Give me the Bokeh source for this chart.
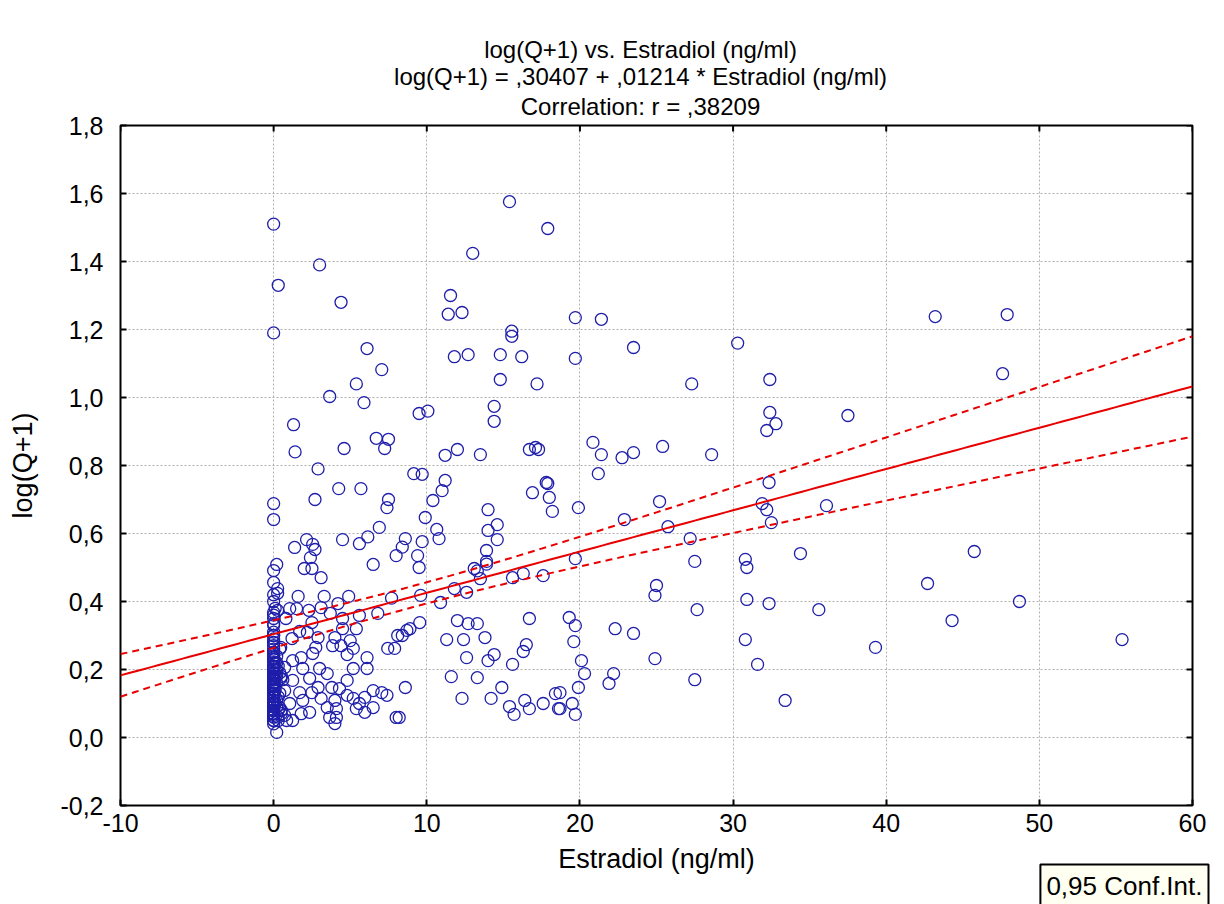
import numpy as np
from bokeh.plotting import figure
from bokeh.models import (Range1d, FixedTicker, CustomJSTickFormatter, Title, ColumnDataSource)
from bokeh.embed import file_html
from bokeh.resources import INLINE

# ---- data ----
# visible, separable points
estradiol = [
    0, 0.3, 0, 3.0, 4.4, 1.3, 1.4, 2.9, 4.6, 6.7, 7.5, 7.25, 6.1, 7.06, 5.4, 3.66, 5.9, 9.5, 10.07,
    15.4, 17.9, 13.0, 11.55, 11.4, 12.3, 19.7, 15.55, 15.55, 11.8, 12.7, 14.8, 16.2, 19.7, 14.8, 17.2,
    14.4, 14.4, 11.2, 12.0, 13.5, 16.7, 17.1, 17.3, 9.15, 9.7, 11.2, 17.8,
    21.4, 23.5, 30.3, 27.3, 32.4, 32.4, 32.8, 32.2, 37.5, 20.85, 21.4, 22.75, 23.5, 25.4, 28.6, 21.2, 32.35,
    43.2, 47.9, 47.6, 45.75, 42.7, 48.7, 44.3, 39.3, 55.4,
    19.9, 25.2, 22.9, 25.75, 31.9, 32.2, 32.5, 36.1, 27.2, 27.5, 19.7, 30.8, 30.9, 34.4, 25.0, 24.9,
    30.9, 32.35, 27.65, 35.6, 19.3, 19.7, 22.3, 23.5, 19.6, 30.8, 20.1, 24.9, 31.6, 20.3, 22.2, 21.9,
    19.9, 27.5, 33.4, 18.7, 18.7, 19.5, 19.7,
    9.5, 13.3, 13.9, 13.5, 15.6, 16.3, 17.6, 9.6, 11.8, 12.6, 10.9, 9.54, 8.9, 8.4, 12.0, 12.7, 13.3,
    11.3, 12.4, 13.8, 16.7, 12.6, 14.0, 14.4, 16.5, 16.3, 15.6, 11.6, 13.3, 8.6, 14.9, 12.3, 14.2,
    15.4, 15.7, 16.4, 16.7, 17.6, 18.4, 18.6, 8.2,
    11.0, 10.4, 9.9, 10.65, 10.8, 16.9, 17.9, 18.0, 18.2, 14.0, 14.6, 14.0, 14.6, 13.9, 13.9, 8.6, 9.7,
    8.4, 9.4, 13.1,
    0, 0, 2.7, 4.25, 5.7, 7.5, 7.4, 6.9, 6.15, 5.6, 4.5, 8.0, 6.5, 2.15, 2.55, 2.7, 1.37, 2.4, 2.0, 2.5,
    3.1, 0.2, 0, 0, 0.26, 0.26, 1.6, 3.3, 4.9, 7.7,
    0, 0.26, 2.3, 3.1, 3.7, 4.2, 0, 0.8, 2.5, 1.7, 2.2, 1.2, 2.9, 0, 0.46, 4.0, 4.4, 5.0, 5.2, 4.8, 3.85,
    2.75, 1.8, 1.24, 0, 2.55, 6.1, 6.1, 5.2, 0, 0.72, 1.9, 3.0, 0, 0.46, 1.24, 2.35, 3.5, 3.8, 4.8, 4.3,
    0, 0.72, 1.7, 2.9, 2.5, 4.8, 5.2, 5.95, 6.5, 7.06, 7.4, 0, 0.2, 1.05, 1.9, 3.1, 4.0, 5.6, 5.95, 5.4,
    6.5, 0, 0.72, 1.24, 1.8, 2.35, 3.66, 4.1, 4.0, 8.0, 0.2, 0.85, 0.4, 3.5, 4.1, 7.45, 7.9, 8.1, 8.7,
    4.5, 4.5, 5.6, 6.8, 5.4, 1.05, 1.5,
    0, 0, 0, 0, 0, 0, 0, 0, 0, 0,
]
log_q1 = [
    1.51, 1.33, 1.19, 1.39, 1.28, 0.92, 0.84, 0.79, 0.85, 0.88, 0.877, 0.85, 1.144, 1.082, 1.04, 1.003,
    0.985, 0.953, 0.96,
    1.576, 1.497, 1.424, 1.30, 1.245, 1.25, 1.235, 1.195, 1.18, 1.12, 1.126, 1.126, 1.12, 1.115, 1.053,
    1.04, 0.974, 0.93, 0.83, 0.847, 0.832, 0.847, 0.853, 0.847, 0.776, 0.774, 0.756, 0.75,
    1.23, 1.147, 1.16, 1.04, 1.053, 0.956, 0.923, 0.903, 0.947, 0.868, 0.832, 0.823, 0.838, 0.856, 0.832,
    0.776, 0.75,
    1.238, 1.244, 1.07, 0.547, 0.453, 0.40, 0.344, 0.265, 0.288,
    0.676, 0.694, 0.641, 0.62, 0.688, 0.67, 0.632, 0.682, 0.585, 0.518, 0.526, 0.524, 0.50, 0.541, 0.447,
    0.418, 0.406, 0.394, 0.376, 0.376, 0.353, 0.329, 0.32, 0.306, 0.282, 0.288, 0.226, 0.232, 0.215,
    0.188, 0.188, 0.159, 0.147, 0.17, 0.109, 0.132, 0.085, 0.10, 0.068,
    0.50, 0.49, 0.51, 0.467, 0.47, 0.482, 0.476, 0.418, 0.438, 0.427, 0.397, 0.338, 0.32, 0.30, 0.344,
    0.335, 0.335, 0.288, 0.288, 0.294, 0.35, 0.235, 0.226, 0.244, 0.273, 0.253, 0.215, 0.179, 0.176,
    0.147, 0.147, 0.115, 0.115, 0.091, 0.068, 0.109, 0.085, 0.10, 0.129, 0.085, 0.059,
    0.726, 0.697, 0.647, 0.612, 0.585, 0.72, 0.747, 0.706, 0.665, 0.67, 0.626, 0.609, 0.582, 0.55, 0.518,
    0.585, 0.576, 0.56, 0.535, 0.497,
    0.688, 0.641, 0.70, 0.732, 0.732, 0.70, 0.676, 0.618, 0.59, 0.57, 0.582, 0.535, 0.509, 0.582, 0.568,
    0.553, 0.559, 0.529, 0.497, 0.497, 0.47, 0.509, 0.491, 0.456, 0.438, 0.424, 0.415, 0.415, 0.415, 0.41,
    0.368, 0.374, 0.374, 0.382, 0.365, 0.394, 0.335, 0.35, 0.338, 0.312, 0.309, 0.291, 0.294, 0.279,
    0.265, 0.294, 0.27, 0.285, 0.262, 0.244, 0.27, 0.265, 0.235, 0.226, 0.235, 0.247, 0.235, 0.203,
    0.203, 0.206, 0.206, 0.203, 0.203, 0.174, 0.174, 0.168, 0.174, 0.188, 0.147, 0.168, 0.144, 0.138,
    0.138, 0.132, 0.147, 0.132, 0.124, 0.115, 0.118, 0.138, 0.132, 0.124, 0.103, 0.109, 0.10, 0.109,
    0.115, 0.109, 0.10, 0.074, 0.085, 0.088, 0.065, 0.065, 0.05, 0.07, 0.074, 0.059, 0.059, 0.041,
    0.059, 0.015, 0.05, 0.088, 0.088, 0.085, 0.262, 0.262, 0.30, 0.315, 0.32, 0.35, 0.359, 0.365, 0.32,
    0.379, 0.379,
    0.08, 0.12, 0.155, 0.19, 0.22, 0.25, 0.30, 0.35, 0.40, 0.05,
]
# points hidden in the solid stack at Estradiol ~ 0 (estimated so that the
# fitted line / r printed in the title are reproduced)
estradiol_stack = [
    0, 0, 0.2, 0, 0, 0.4, 0, 0, 0.1, 0,
    0, 0.3, 0, 0, 0, 0.2, 0, 0, 0.5, 0,
    0, 0, 0.1, 0, 0.3, 0, 0, 0.2, 0, 0,
    0.4, 0, 0, 0, 0.1, 0, 0, 0.6, 0, 0,
    0, 0.2, 0, 0, 0, 0.3, 0, 0, 0, 0.1,
    0, 0, 0.5, 0, 0, 0, 0.2, 0, 0, 0,
    0.1, 0, 0, 0.3, 0, 0, 0, 0.4, 0, 0,
    0, 0.2, 0, 0, 0.1, 0, 0, 0, 0.3, 0,
    0, 0, 0.2, 0, 0, 0.1, 0, 0, 0.5, 0,
]
log_q1_stack = [
    0.04, 0.07, 0.09, 0.11, 0.06, 0.13, 0.15, 0.08, 0.18, 0.21,
    0.12, 0.05, 0.10, 0.14, 0.17, 0.24, 0.19, 0.09, 0.07, 0.28,
    0.16, 0.11, 0.22, 0.13, 0.06, 0.31, 0.15, 0.20, 0.10, 0.08,
    0.26, 0.12, 0.18, 0.05, 0.14, 0.23, 0.09, 0.17, 0.33, 0.11,
    0.07, 0.19, 0.13, 0.25, 0.16, 0.08, 0.21, 0.12, 0.29, 0.10,
    0.15, 0.06, 0.18, 0.27, 0.14, 0.09, 0.22, 0.11, 0.36, 0.13,
    0.17, 0.08, 0.20, 0.12, 0.16, 0.24, 0.10, 0.19, 0.07, 0.30,
    0.14, 0.18, 0.11, 0.23, 0.15, 0.09, 0.26, 0.13, 0.21, 0.17,
    0.12, 0.42, 0.16, 0.10, 0.20, 0.38, 0.14, 0.19, 0.08, 0.25,
]

intercept = 0.30407
slope = 0.01214
conf_level_label = "0,95 Conf.Int."
title_lines = [
    "log(Q+1) vs. Estradiol (ng/ml)",
    "log(Q+1) = ,30407 + ,01214 * Estradiol (ng/ml)",
    "Correlation: r = ,38209",
]
x_ticks = [-10, 0, 10, 20, 30, 40, 50, 60]
y_ticks = [-0.2, 0.0, 0.2, 0.4, 0.6, 0.8, 1.0, 1.2, 1.4, 1.6, 1.8]
X_MIN, X_MAX = -10, 60
Y_MIN, Y_MAX = -0.2, 1.8

all_x = estradiol + estradiol_stack
all_y = log_q1 + log_q1_stack

# ---- 95% confidence band of the regression line, computed from the data ----
xa = np.array(all_x, dtype=float)
ya = np.array(all_y, dtype=float)
n = len(xa)
xbar = xa.mean()
sxx = ((xa - xbar) ** 2).sum()
resid = ya - (intercept + slope * xa)
s = np.sqrt((resid ** 2).sum() / (n - 2))
tval = 1.966
xs = np.linspace(X_MIN, X_MAX, 141)
yfit = intercept + slope * xs
half = tval * s * np.sqrt(1.0 / n + (xs - xbar) ** 2 / sxx)

FONT = "Liberation Sans"
FRAME_L, FRAME_R, FRAME_T, FRAME_B = 120, 32, 125, 99
W, H = 1224, 904

# Arial/Liberation advance widths (1/1000 em) for centring the title lines
_aw = {" ": 278, "(": 333, ")": 333, "+": 584, "=": 584, ",": 278, ".": 278, "*": 389, ":": 278,
       "/": 278, "l": 222, "o": 556, "g": 556, "Q": 778, "v": 500, "s": 500, "E": 667, "t": 278,
       "r": 333, "a": 556, "d": 556, "i": 222, "n": 556, "m": 833, "C": 722, "e": 556, "I": 278, "f": 278}


def text_w(t, size):
    return sum(_aw.get(c, 556) for c in t) * size / 1000.0


TITLE_PX = 24
TITLE_CX = 640
TITLE_STANDOFFS = [6, -10, 12]   # line 1, line 2, line 3

p = figure(width=W, height=H, output_backend="svg", toolbar_location=None,
           x_range=Range1d(X_MIN, X_MAX), y_range=Range1d(Y_MIN, Y_MAX),
           min_border_left=FRAME_L, min_border_right=FRAME_R,
           min_border_top=FRAME_T, min_border_bottom=FRAME_B)
p.background_fill_color = "white"
p.border_fill_color = "white"
p.outline_line_color = "black"
p.outline_line_width = 2

for ax, ticks in ((p.xaxis[0], x_ticks), (p.yaxis[0], y_ticks)):
    ax.ticker = FixedTicker(ticks=ticks)
    ax.axis_line_color = None
    ax.major_tick_in = 6
    ax.major_tick_out = 0
    ax.major_tick_line_width = 2
    ax.major_tick_line_color = "black"
    ax.minor_tick_line_color = None
    ax.major_label_text_font = FONT
    ax.major_label_text_font_size = "25px"
    ax.major_label_text_color = "black"
    ax.axis_label_text_font = FONT
    ax.axis_label_text_font_size = "27px"
    ax.axis_label_text_font_style = "normal"
    ax.axis_label_text_color = "black"

p.xaxis[0].formatter = CustomJSTickFormatter(code="return tick.toFixed(0);")
p.yaxis[0].formatter = CustomJSTickFormatter(code="return tick.toFixed(1).replace('.', ',');")
p.xaxis[0].axis_label = "Estradiol (ng/ml)"
p.yaxis[0].axis_label = "log(Q+1)"
p.xaxis[0].major_label_standoff = 8
p.xaxis[0].axis_label_standoff = 9
p.yaxis[0].major_label_standoff = 17
p.yaxis[0].axis_label_standoff = 19

for ln, so in reversed(list(zip(title_lines, TITLE_STANDOFFS))):
    off = TITLE_CX - FRAME_L - text_w(ln, TITLE_PX) / 2.0
    p.add_layout(Title(text=ln, align="left", offset=off, text_font=FONT,
                       text_font_size=f"{TITLE_PX}px", text_font_style="normal",
                       text_color="black", standoff=so), "above")

# confidence-interval key box, under the bottom-right corner of the frame
p.add_layout(Title(text=conf_level_label, align="right", offset=-16, text_font=FONT,
                   text_font_size="26px", text_font_style="normal", text_color="black",
                   standoff=-28, padding=6, background_fill_color="#fffff2",
                   border_line_color="black", border_line_width=2), "below")

p.xgrid.ticker = FixedTicker(ticks=x_ticks)
p.ygrid.ticker = FixedTicker(ticks=y_ticks)
for g in (p.xgrid[0], p.ygrid[0]):
    g.grid_line_color = "#b0b0b0"
    g.grid_line_dash = "2 2"
    g.grid_line_width = 1

# inward tick marks on the right and top edges of the frame (mirroring the axes)
p.ray(x=[X_MAX] * len(y_ticks), y=y_ticks, length=6, length_units="screen", angle=np.pi,
      line_color="black", line_width=2)
p.ray(x=x_ticks, y=[Y_MAX] * len(x_ticks), length=6, length_units="screen", angle=-np.pi / 2,
      line_color="black", line_width=2)

src = ColumnDataSource(dict(x=all_x, y=all_y))
p.scatter("x", "y", source=src, marker="circle", size=12, fill_color=None,
          line_color="#1e1eaa", line_width=1.3)

p.line(xs, yfit, line_color="#e80000", line_width=2)
p.line(xs, yfit + half, line_color="#e80000", line_width=2, line_dash="7 5")
p.line(xs, yfit - half, line_color="#e80000", line_width=2, line_dash="7 5")

open("out.html", "w").write(file_html(p, INLINE))
